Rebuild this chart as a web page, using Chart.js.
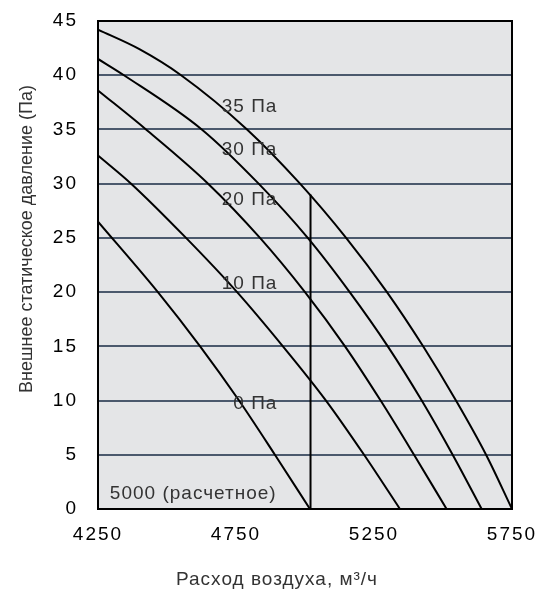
<!DOCTYPE html>
<html>
<head>
<meta charset="utf-8">
<script src="https://cdn.jsdelivr.net/npm/chart.js@4"></script>
<style>
  html, body { margin: 0; padding: 0; background: #fff; }
  #wrap { width: 537px; height: 594px; }
</style>
</head>
<body>
<div id="wrap"><canvas id="fanChart" width="537" height="594"></canvas></div>
<script>
// Airflow (m3/h) and external static pressure (Pa)
const flow35 = [4250, 4400, 4551, 4790, 4982, 5149, 5297, 5428, 5547, 5656, 5750];
const pres35 = [44.2, 42.4, 40, 35, 30, 25, 20, 15, 10, 5, 0];

const flow30 = [4250, 4344, 4626, 4832, 5010, 5162, 5300, 5423, 5535, 5640];
const pres30 = [41.5, 40, 35, 30, 25, 20, 15, 10, 5, 0];

const flow20 = [4250, 4424, 4649, 4837, 5000, 5145, 5274, 5395, 5513];
const pres20 = [38.6, 35, 30, 25, 20, 15, 10, 5, 0];

const flow10 = [4250, 4370, 4569, 4754, 4920, 5076, 5214, 5344];
const pres10 = [32.6, 30, 25, 20, 15, 10, 5, 0];

const flow0 = [4250, 4467, 4620, 4761, 4891, 5018];
const pres0 = [26.5, 20, 15, 10, 5, 0];

// design point marker (drawn slightly right of 5000 in the original)
const designFlow = 5020;
const designTop = 29;

const xTicks = [4250, 4750, 5250, 5750];

// curve labels (right edge of text, in data units)
const curveLabels = ['35 Па', '30 Па', '20 Па', '10 Па', '0 Па'];
const labelFlow = [4900, 4900, 4900, 4900, 4900];
const labelPres = [37.1, 33.1, 28.5, 20.8, 9.7];

const FONT = '"Liberation Sans", Arial, sans-serif';

function toPoints(xs, ys) {
    return xs.map((x, i) => ({ x: x, y: ys[i] }));
}

function curve(xs, ys) {
    return {
        data: toPoints(xs, ys),
        showLine: true,
        borderColor: '#000',
        borderWidth: 2,
        pointRadius: 0,
        cubicInterpolationMode: 'monotone',
        fill: false
    };
}

const plotDecor = {
    id: 'plotDecor',
    beforeDraw(chart) {
        const { ctx, chartArea: a } = chart;
        ctx.save();
        ctx.fillStyle = '#e4e5e7';
        ctx.fillRect(a.left, a.top, a.right - a.left, a.bottom - a.top);
        ctx.restore();
        // wider spacing for the tick labels drawn next
        ctx.letterSpacing = '2px';
    },
    afterDatasetsDraw(chart) {
        const { ctx, chartArea: a, scales } = chart;
        ctx.save();
        ctx.letterSpacing = '1px';
        ctx.fillStyle = '#333';
        ctx.font = '19px ' + FONT;
        ctx.textBaseline = 'middle';
        ctx.textAlign = 'right';
        curveLabels.forEach((t, i) => {
            ctx.fillText(t, scales.x.getPixelForValue(labelFlow[i]), scales.y.getPixelForValue(labelPres[i]));
        });
        ctx.textAlign = 'left';
        ctx.fillText('5000 (расчетное)', scales.x.getPixelForValue(4293), scales.y.getPixelForValue(1.45));

        // axis titles
        ctx.textAlign = 'center';
        ctx.fillText('Расход воздуха, м³/ч', 277, 580);
        ctx.letterSpacing = '0px';
        ctx.font = '18px ' + FONT;
        ctx.translate(27, 239);
        ctx.rotate(-Math.PI / 2);
        ctx.fillText('Внешнее статическое давление (Па)', 0, 0);
        ctx.restore();

        ctx.save();
        ctx.strokeStyle = '#000';
        ctx.lineWidth = 2;
        ctx.strokeRect(a.left, a.top, a.right - a.left, a.bottom - a.top);
        ctx.restore();
    }
};

new Chart(document.getElementById('fanChart'), {
    type: 'scatter',
    data: {
        datasets: [
            curve(flow35, pres35),
            curve(flow30, pres30),
            curve(flow20, pres20),
            curve(flow10, pres10),
            curve(flow0, pres0),
            curve([designFlow, designFlow], [0, designTop])
        ]
    },
    options: {
        responsive: false,
        animation: false,
        layout: { padding: { top: 21, right: 25, left: 0, bottom: 0 } },
        plugins: { legend: { display: false }, tooltip: { enabled: false } },
        scales: {
            x: {
                type: 'linear',
                min: 4250,
                max: 5750,
                afterFit: s => { s.height = 85; s.paddingLeft = 0; s.paddingRight = 0; },
                afterBuildTicks: s => { s.ticks = xTicks.map(v => ({ value: v })); },
                grid: { display: false, drawTicks: false },
                border: { display: false },
                ticks: {
                    padding: 14,
                    color: '#000',
                    font: { family: FONT, size: 19 },
                    maxRotation: 0,
                    callback: v => String(v)
                }
            },
            y: {
                min: 0,
                max: 45,
                afterFit: s => { s.width = 98; s.paddingTop = 0; s.paddingBottom = 0; },
                grid: { color: '#4b596d', lineWidth: 2, drawTicks: false },
                border: { display: false },
                ticks: {
                    stepSize: 5,
                    padding: 20,
                    color: '#000',
                    font: { family: FONT, size: 19 }
                }
            }
        }
    },
    plugins: [plotDecor]
});
</script>
</body>
</html>
